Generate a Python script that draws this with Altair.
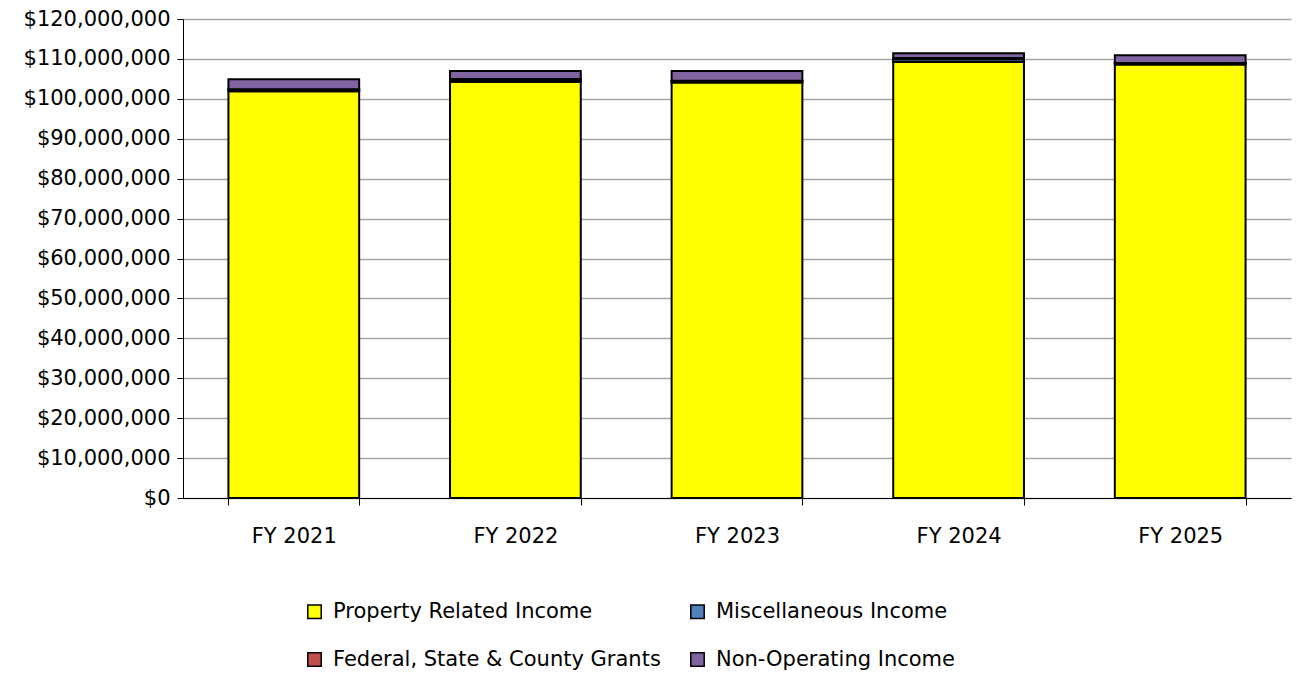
import altair as alt
import pandas as pd

years = ["FY 2021", "FY 2022", "FY 2023", "FY 2024", "FY 2025"]
series = ["Property Related Income", "Miscellaneous Income",
          "Federal, State & County Grants", "Non-Operating Income"]
property_income = [101900000, 104300000, 104100000, 109200000, 108600000]
misc_income = [400000, 500000, 300000, 700000, 300000]
grants = [100000, 200000, 100000, 300000, 100000]
non_operating = [2500000, 2000000, 2500000, 1200000, 1900000]
colors = ["#FFFF00", "#4F81BD", "#C0504D", "#8064A2"]
y_ticks = list(range(0, 120000001, 10000000))

rows = []
for vals, name, idx in [(property_income, series[0], 0), (misc_income, series[1], 1),
                        (grants, series[2], 2), (non_operating, series[3], 3)]:
    for y, v in zip(years, vals):
        rows.append({"year": y, "series": name, "value": v, "ord": idx})
df = pd.DataFrame(rows)

font = "DejaVu Sans"
fs = 21

chart = alt.Chart(df).mark_bar(stroke="black", strokeWidth=2).encode(
    x=alt.X("year:N", sort=years, title=None,
            scale=alt.Scale(paddingInner=0.41, paddingOuter=0.205),
            axis=alt.Axis(labelAngle=0, tickBand="extent", tickSize=7, domainColor="black",
                          tickColor="black", labelPadding=20, labelFontSize=fs,
                          labelColor="black", labelFont=font, domainWidth=1)),
    y=alt.Y("value:Q", stack="zero", title=None,
            scale=alt.Scale(domain=[0, 120000000], nice=False),
            axis=alt.Axis(values=y_ticks, format="$,.0f", tickSize=6, tickColor="black",
                          domainColor="black", gridColor="#A6A6A6", gridWidth=1.5,
                          labelFontSize=fs, labelColor="black", labelFont=font,
                          labelPadding=7, labelLimit=300)),
    color=alt.Color("series:N", sort=series,
                    scale=alt.Scale(domain=series, range=colors),
                    legend=alt.Legend(title=None, orient="none", legendX=121, legendY=582,
                                      columns=2, direction="horizontal",
                                      symbolType="square", symbolSize=180,
                                      symbolStrokeColor="black", symbolStrokeWidth=1.5,
                                      labelFontSize=fs, labelFont=font, labelColor="black",
                                      labelLimit=500, columnPadding=26, rowPadding=26,
                                      labelOffset=8)),
    order=alt.Order("ord:Q", sort="ascending"),
).properties(
    width=1108, height=479,
    autosize=alt.AutoSizeParams(type="none"),
    padding={"left": 183, "top": 19, "right": 8, "bottom": 179},
).configure_view(stroke=None)

chart.save("out.html", embed_options={"renderer": "svg", "actions": False})
